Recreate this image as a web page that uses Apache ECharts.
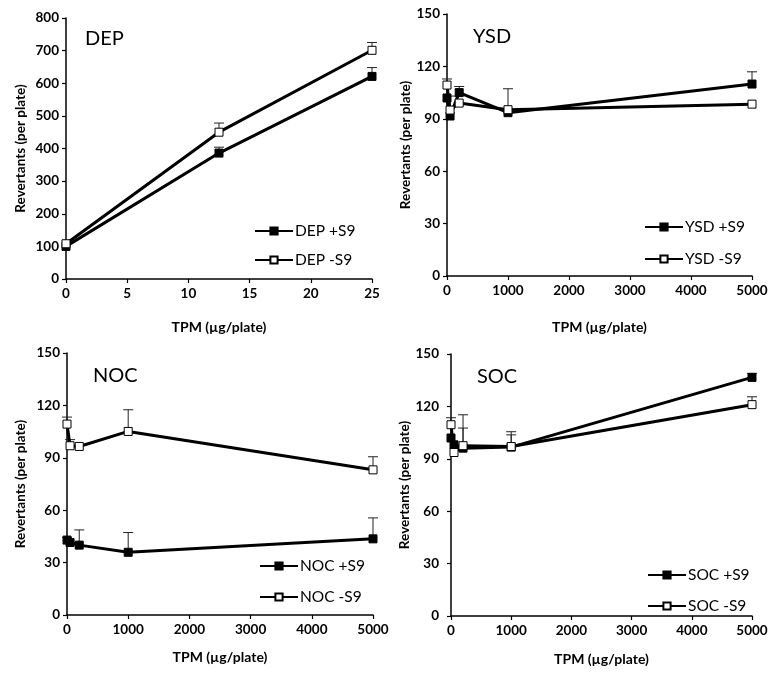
<!DOCTYPE html>
<html>
<head>
<meta charset="utf-8">
<script src="https://cdn.jsdelivr.net/npm/echarts@6/dist/echarts.min.js"></script>
<style>html,body{margin:0;padding:0;background:#fff}#c{width:776px;height:676px}</style>
</head>
<body>
<div id="c"></div>
<script>
// ---- Data ----
const depDose = [0, 12.5, 25];
const depPlus = [100, 386, 621];
const depPlusErr = [0, 18, 27];
const depMinus = [108, 450, 701];
const depMinusErr = [0, 28, 24];

const dose = [0, 50, 200, 1000, 5000];

const ysdPlus = [101.9, 91.6, 105.0, 93.5, 109.9];
const ysdPlusErr = [0, 0, 3.5, 0, 7];
const ysdMinus = [109.3, 95.0, 99.0, 95.2, 98.4];
const ysdMinusErr = [3.5, 8, 0, 12, 0];

const nocPlus = [42.9, 41.5, 40.0, 35.9, 43.6];
const nocPlusErr = [1.5, 0, 8.7, 11.3, 12];
const nocMinus = [109.3, 96.9, 96.5, 105.1, 83.1];
const nocMinusErr = [4, 3.5, 0, 12.4, 7.5];

const socPlus = [101.9, 98.0, 96.1, 96.7, 136.6];
const socPlusErr = [0, 0, 11.5, 7, 2.3];
const socMinus = [109.5, 93.6, 97.5, 97.0, 121.0];
const socMinusErr = [4, 0, 17.7, 8.5, 4.5];

const depYTicks = {min: 0, max: 800, interval: 100};
const otherYTicks = {min: 0, max: 150, interval: 30};
const depXTicks = {min: 0, max: 25, interval: 5};
const otherXTicks = {min: 0, max: 5000, interval: 1000};

const panels = [
  {label: 'DEP', x: depDose, plus: depPlus, plusErr: depPlusErr, minus: depMinus, minusErr: depMinusErr, xt: depXTicks, yt: depYTicks},
  {label: 'YSD', x: dose, plus: ysdPlus, plusErr: ysdPlusErr, minus: ysdMinus, minusErr: ysdMinusErr, xt: otherXTicks, yt: otherYTicks},
  {label: 'NOC', x: dose, plus: nocPlus, plusErr: nocPlusErr, minus: nocMinus, minusErr: nocMinusErr, xt: otherXTicks, yt: otherYTicks},
  {label: 'SOC', x: dose, plus: socPlus, plusErr: socPlusErr, minus: socMinus, minusErr: socMinusErr, xt: otherXTicks, yt: otherYTicks}
];

// ---- Layout ----
const FONT = 'Lato, "Open Sans", sans-serif';
const grids = [
  {left: 66, top: 18, width: 306, height: 261},
  {left: 447, top: 14, width: 305, height: 262},
  {left: 67, top: 353, width: 306, height: 262},
  {left: 451, top: 354, width: 301, height: 262}
];
const titlePos = [[80, 24], [468, 22], [88, 361], [472, 362]];
const legendPos = [[254, 223, 13], [644, 219, 16], [259, 558, 15], [647, 567, 15]];
const yNameGap = [38, 31, 39, 28];
const yLabelMargin = [7, 7, 7, 12];
const xNameGap = [41, 44, 35, 36];

function errRender(params, api) {
  const x = api.value(0), y = api.value(1), e = api.value(2);
  if (!e) return null;
  const p0 = api.coord([x, y]);
  const p1 = api.coord([x, y + e]);
  const st = {stroke: '#222', lineWidth: 1};
  return {type: 'group', children: [
    {type: 'line', shape: {x1: p0[0], y1: p0[1], x2: p1[0], y2: p1[1]}, style: st},
    {type: 'line', shape: {x1: p1[0] - 5, y1: p1[1], x2: p1[0] + 5, y2: p1[1]}, style: st}
  ]};
}

const option = {
  animation: false,
  backgroundColor: '#fff',
  title: [], grid: [], xAxis: [], yAxis: [], legend: [], series: []
};

panels.forEach((p, i) => {
  option.grid.push(Object.assign({containLabel: false}, grids[i]));
  option.title.push({
    text: p.label, left: titlePos[i][0], top: titlePos[i][1],
    textStyle: {fontFamily: FONT, fontSize: 20, fontWeight: 'normal', color: '#000'}
  });
  option.xAxis.push({
    type: 'value', gridIndex: i, min: p.xt.min, max: p.xt.max, interval: p.xt.interval,
    name: 'TPM (µg/plate)', nameLocation: 'middle', nameGap: xNameGap[i],
    nameTextStyle: {fontFamily: FONT, fontSize: 14, fontWeight: 'bold', color: '#000'},
    axisLine: {lineStyle: {color: '#000', width: 1.5}},
    axisTick: {show: true, length: 4, lineStyle: {color: '#000', width: 1.2}},
    axisLabel: {fontFamily: FONT, fontSize: 13.5, fontWeight: 'bold', color: '#000', margin: 8,
      formatter: v => String(v)},
    splitLine: {show: false}
  });
  option.yAxis.push({
    type: 'value', gridIndex: i, min: p.yt.min, max: p.yt.max, interval: p.yt.interval,
    name: 'Revertants (per plate)', nameLocation: 'middle', nameGap: yNameGap[i],
    nameTextStyle: {fontFamily: FONT, fontSize: 13.5, fontWeight: 'bold', color: '#000'},
    axisLine: {show: true, lineStyle: {color: '#000', width: 1.5}},
    axisTick: {show: true, length: 4, lineStyle: {color: '#000', width: 1.2}},
    axisLabel: {fontFamily: FONT, fontSize: 13.5, fontWeight: 'bold', color: '#000', margin: yLabelMargin[i],
      formatter: v => String(v)},
    splitLine: {show: false}
  });
  const nPlus = p.label + ' +S9', nMinus = p.label + ' -S9';
  option.legend.push({
    orient: 'vertical', left: legendPos[i][0], top: legendPos[i][1], itemGap: legendPos[i][2],
    itemWidth: 38, itemHeight: 9, padding: 0,
    data: [nPlus, nMinus],
    textStyle: {fontFamily: FONT, fontSize: 15.5, color: '#000', padding: [0, 0, 0, -3]}
  });
  const errPlus = p.x.map((x, k) => [x, p.plus[k], p.plusErr[k]]);
  const errMinus = p.x.map((x, k) => [x, p.minus[k], p.minusErr[k]]);
  option.series.push({
    type: 'custom', name: nPlus + ' err', xAxisIndex: i, yAxisIndex: i, z: 1,
    renderItem: errRender, data: errPlus, silent: true
  });
  option.series.push({
    type: 'custom', name: nMinus + ' err', xAxisIndex: i, yAxisIndex: i, z: 1,
    renderItem: errRender, data: errMinus, silent: true
  });
  option.series.push({
    type: 'line', name: nPlus, xAxisIndex: i, yAxisIndex: i, z: 3,
    data: p.x.map((x, k) => [x, p.plus[k]]),
    symbol: 'rect', symbolSize: 8, showAllSymbol: true,
    lineStyle: {color: '#000', width: 3},
    itemStyle: {color: '#000', borderColor: '#000', borderWidth: 1}
  });
  option.series.push({
    type: 'line', name: nMinus, xAxisIndex: i, yAxisIndex: i, z: 4,
    data: p.x.map((x, k) => [x, p.minus[k]]),
    symbol: 'rect', symbolSize: 8, showAllSymbol: true,
    lineStyle: {color: '#000', width: 3},
    itemStyle: {color: '#fff', borderColor: '#000', borderWidth: 1}
  });
});

const chart = echarts.init(document.getElementById('c'), null, {renderer: 'canvas'});
chart.setOption(option);
</script>
</body>
</html>
